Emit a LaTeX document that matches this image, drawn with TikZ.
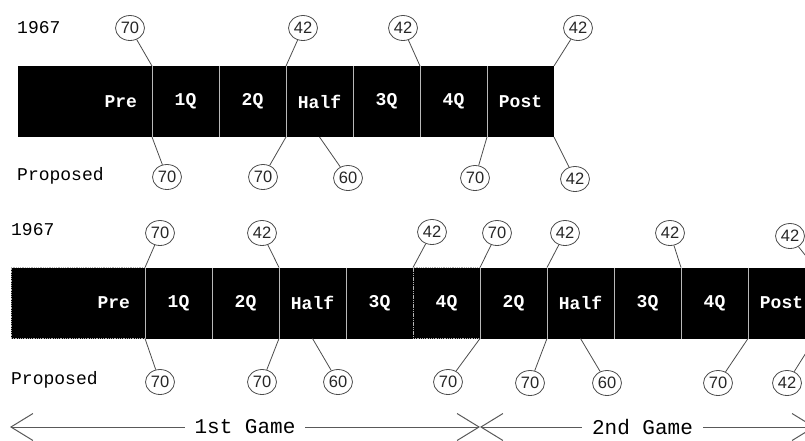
\documentclass[tikz,border=0pt]{standalone}
\usepackage{fontspec}
\setmonofont{Liberation Mono}
\setsansfont{Liberation Sans}
\usetikzlibrary{positioning, arrows.meta, shapes.geometric}

\begin{document}
\begin{tikzpicture}[
    x=1pt, y=-1pt,
    cell/.style={fill=black, text=white, minimum width=67pt, minimum height=71pt, inner sep=0pt, outer sep=0pt, font=\ttfamily\bfseries\fontsize{18}{20}\selectfont,
        path picture={\draw[gray!55, line width=1.6pt] (path picture bounding box.north west) -- (path picture bounding box.south west);}},
    precell/.style={fill=black, text=white, minimum height=71pt, text width=104pt, inner xsep=15pt, inner ysep=0pt, outer sep=0pt, align=right, font=\ttfamily\bfseries\fontsize{18}{20}\selectfont},
    worn/.style={draw=gray!60, densely dotted, line width=0.8pt},
    num/.style={ellipse, draw=black!70, line width=0.8pt, minimum width=29pt, minimum height=25pt, inner sep=0pt, text=black!85, font=\sffamily\fontsize{16.5}{18}\selectfont},
    lead/.style={draw=black!70, line width=0.8pt},
    rowlabel/.style={anchor=west, inner sep=0pt, font=\ttfamily\fontsize{18}{20}\selectfont},
    game/.style={{Straight Barb[length=22pt, width=27pt]}-{Straight Barb[length=22pt, width=27pt]}, draw=black!65, line width=1pt, font=\ttfamily\fontsize{21}{23}\selectfont}
]
\useasboundingbox (0,0) rectangle (805,440);
\clip (0,0) rectangle (805,440);

% Row labels
\node[rowlabel] (yr1) at (17,28) {1967};
\node[rowlabel] (prop1) at (17,176) {Proposed};
\node[rowlabel] (yr2) at (11,230) {1967};
\node[rowlabel] (prop2) at (11,380) {Proposed};

% Upper bar: one game
\node[precell, anchor=west] (pre1) at (18,101.5) {Pre};
\node[cell, right=0pt of pre1] (q1a) {1Q};
\node[cell, right=0pt of q1a] (q2a) {2Q};
\node[cell, right=0pt of q2a] (halfa) {Half};
\node[cell, right=0pt of halfa] (q3a) {3Q};
\node[cell, right=0pt of q3a] (q4a) {4Q};
\node[cell, right=0pt of q4a] (posta) {Post};

% Lower bar: double header
\node[precell, worn, anchor=west] (pre2) at (11,303) {Pre};
\node[cell, right=0pt of pre2] (q1b) {1Q};
\node[cell, right=0pt of q1b] (q2b) {2Q};
\node[cell, right=0pt of q2b] (halfb) {Half};
\node[cell, right=0pt of halfb] (q3b) {3Q};
\node[cell, worn, right=0pt of q3b] (q4b) {4Q};
\node[cell, right=0pt of q4b] (q2c) {2Q};
\node[cell, right=0pt of q2c] (halfc) {Half};
\node[cell, right=0pt of halfc] (q3c) {3Q};
\node[cell, right=0pt of q3c] (q4c) {4Q};
\node[cell, right=0pt of q4c] (postb) {Post};

% Upper bar, 1967 breaks
\node[num] (a1) at (130,28) {70};
\node[num] (a2) at (303,28) {42};
\node[num] (a3) at (403,28) {42};
\node[num] (a4) at (578,28) {42};
\draw[lead] (a1) -- (pre1.north east);
\draw[lead] (a2) -- (q2a.north east);
\draw[lead] (a3) -- (q3a.north east);
\draw[lead] (a4) -- (posta.north east);

% Upper bar, proposed breaks
\node[num] (b1) at (167,177) {70};
\node[num] (b2) at (263,177) {70};
\node[num] (b3) at (348,178) {60};
\node[num] (b4) at (475,178) {70};
\node[num] (b5) at (575,179) {42};
\draw[lead] (b1) -- (pre1.south east);
\draw[lead] (b2) -- (q2a.south east);
\draw[lead] (b3) -- (halfa.south);
\draw[lead] (b4) -- (q4a.south east);
\draw[lead] (b5) -- (posta.south east);

% Lower bar, 1967 breaks
\node[num] (c1) at (160,233) {70};
\node[num] (c2) at (262,233) {42};
\node[num] (c3) at (432,232) {42};
\node[num] (c4) at (497,233) {70};
\node[num] (c5) at (565,233) {42};
\node[num] (c6) at (670,233) {42};
\node[num] (c7) at (790,236) {42};
\draw[lead] (c1) -- (pre2.north east);
\draw[lead] (c2) -- (q2b.north east);
\draw[lead] (c3) -- (q3b.north east);
\draw[lead] (c4) -- (q4b.north east);
\draw[lead] (c5) -- (q2c.north east);
\draw[lead] (c6) -- (q3c.north east);
\draw[lead] (c7) -- (postb.north east);

% Lower bar, proposed breaks
\node[num] (d1) at (160,382) {70};
\node[num] (d2) at (262,382) {70};
\node[num] (d3) at (338,382) {60};
\node[num] (d4) at (448,382) {70};
\node[num] (d5) at (530,383) {70};
\node[num] (d6) at (607,383) {60};
\node[num] (d7) at (718,383) {70};
\node[num] (d8) at (787,383) {42};
\draw[lead] (d1) -- (pre2.south east);
\draw[lead] (d2) -- (q2b.south east);
\draw[lead] (d3) -- (halfb.south);
\draw[lead] (d4) -- (q4b.south east);
\draw[lead] (d5) -- (q2c.south east);
\draw[lead] (d6) -- (halfc.south);
\draw[lead] (d7) -- (q4c.south east);
\draw[lead] (d8) -- (postb.south east);

% Game spans
\coordinate (gl) at (10,427);
\coordinate (gm) at (480,427);
\coordinate (gr) at (815,427);
\draw[game] (gl) -- node[fill=white, inner xsep=10pt, text=black] {1st Game} (gm);
\draw[game] (gm) -- node[fill=white, inner xsep=10pt, text=black, pos=0.485] {2nd Game} (gr);

\end{tikzpicture}
\end{document}
